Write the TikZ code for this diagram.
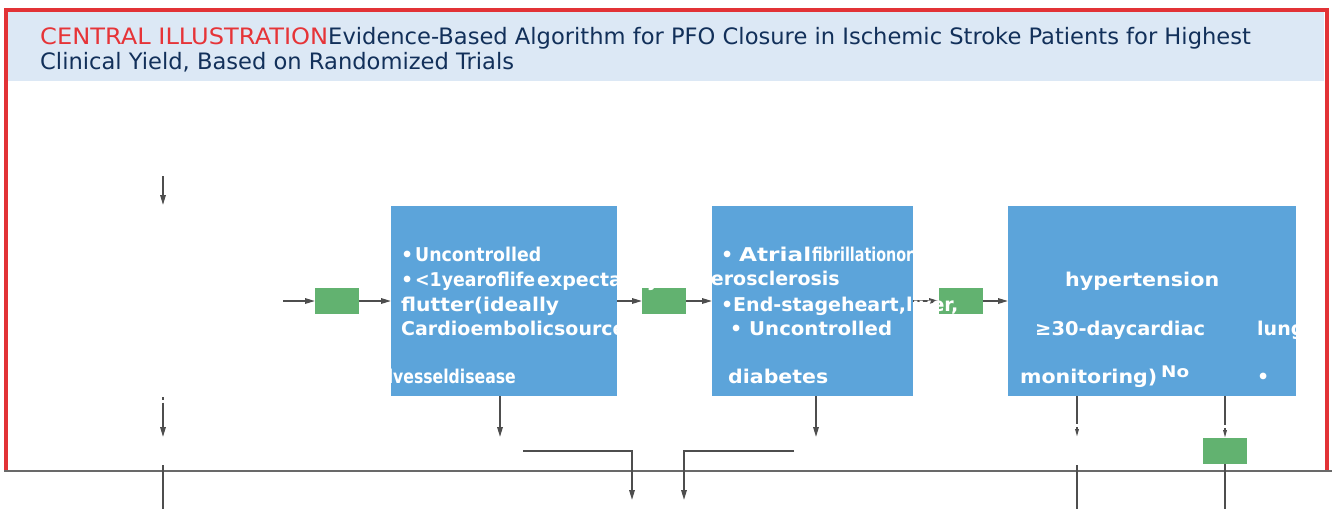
\documentclass[tikz,border=0pt]{standalone}
\usepackage{fontspec}
\setmainfont{DejaVu Sans}
\usepackage{graphicx}
\usetikzlibrary{arrows.meta}
\definecolor{framered}{RGB}{226,50,54}
\definecolor{band}{RGB}{220,232,245}
\definecolor{navy}{RGB}{18,48,90}
\definecolor{titlered}{RGB}{230,52,56}
\definecolor{boxblue}{RGB}{92,164,218}
\definecolor{boxgreen}{RGB}{98,178,112}
\definecolor{conncol}{RGB}{78,78,78}
\definecolor{rule}{RGB}{105,105,105}
\newcommand\fw[2]{\resizebox{#1pt}{\height}{#2}}
\tikzset{
  bluebox/.style={fill=boxblue, draw=none, inner sep=0pt, outer sep=0pt, anchor=north west},
  greenbox/.style={fill=boxgreen, draw=none, inner sep=0pt, outer sep=0pt, anchor=north west, minimum width=44pt, minimum height=26pt},
  connline/.style={draw=conncol, line width=1.6pt},
  arr/.style={connline, -{Triangle[length=10pt,width=5.5pt]}},
  thinarr/.style={connline, -{Triangle[length=8pt,width=3.5pt]}},
  wt/.style={text=white, font=\bfseries\fontsize{19}{19}\selectfont, inner sep=0pt, anchor=base west},
  wte/.style={wt, anchor=base east},
  ttl/.style={text=navy, font=\fontsize{22.6}{25}\selectfont, inner sep=0pt, anchor=base west},
}
\begin{document}
\begin{tikzpicture}[x=1pt,y=-1pt]
\useasboundingbox (0,0) rectangle (1332,509);
% title band and frame
\fill[band] (8,12) rectangle (1324,81);
\draw[framered, line width=4pt] (6,471) -- (6,10) -- (1326.5,10) -- (1326.5,471);
\draw[rule, line width=1.5pt] (4,471) -- (1332,471);
\node[ttl] (tl1) at (40,44) {{\color{titlered}\fw{288}{CENTRAL ILLUSTRATION}}Evidence-Based Algorithm for PFO Closure in Ischemic Stroke Patients for Highest};
\node[ttl] (tl2) at (40,69) {Clinical Yield, Based on Randomized Trials};
% boxes
\node[bluebox, minimum width=226pt, minimum height=190pt] (b1) at (391,206) {};
\node[bluebox, minimum width=201pt, minimum height=190pt] (b2) at (712,206) {};
\node[bluebox, minimum width=288pt, minimum height=190pt] (b3) at (1008,206) {};
\node[greenbox] (g1) at (315,288) {};
\node[greenbox] (g2) at (642,288) {};
\node[greenbox] (g3) at (939,288) {};
\node[greenbox] (g4) at (1203,438) {};
% connectors
\coordinate (a0) at (283,301);
\draw[arr] (a0) -- (g1.west);
\draw[arr] (g1.east) -- (g1.east -| b1.west);
\draw[arr] (g2.west -| b1.east) -- (g2.west);
\draw[arr] (g2.east) -- (g2.east -| b2.west);
\draw[arr] (g3.west -| b2.east) -- (g3.west);
\draw[arr] (g3.east) -- (g3.east -| b3.west);
\coordinate (v1s) at (163,176); \coordinate (v1e) at (163,205);
\draw[arr] (v1s) -- (v1e);
\coordinate (v2s) at (163,397); \coordinate (v2e) at (163,437);
\draw[arr, dash pattern=on 2.5pt off 3pt on 100pt] (v2s) -- (v2e);
\coordinate (v3s) at (163,465); \coordinate (v3e) at (163,509);
\draw[connline] (v3s) -- (v3e);
\coordinate (v4e) at (500,437);
\draw[arr] (b1.south -| v4e) -- (v4e);
\coordinate (e1s) at (523,451); \coordinate (e1e) at (632,500);
\draw[arr] (e1s) -| (e1e);
\coordinate (e2s) at (794,451); \coordinate (e2e) at (684,500);
\draw[arr] (e2s) -| (e2e);
\coordinate (v5e) at (816,437);
\draw[arr] (b2.south -| v5e) -- (v5e);
\coordinate (v6e) at (1077,437);
\draw[thinarr, dash pattern=on 28pt off 3pt on 40pt] (b3.south -| v6e) -- (v6e);
\coordinate (v7s) at (1077,465); \coordinate (v7e) at (1077,509);
\draw[connline] (v7s) -- (v7e);
\coordinate (v8x) at (1225,0);
\draw[thinarr, dash pattern=on 29pt off 3pt on 40pt] (b3.south -| v8x) -- (g4.north);
\coordinate (v9e) at (1225,509);
\draw[connline] (g4.south) -- (v9e);
% box 1 text
\node[wt] (p1a) at (401,261) {•};
\node[wt] (p1b) at (415,261) {\fw{126}{Uncontrolled}};
\node[wt] (p1c) at (401,286) {•};
\node[wt] (p1d) at (415,286) {\fw{120}{<1yearoflife}};
\node[wt] (p1e) at (537,286) {expectancy};
\node[wt] (p1f) at (401,311) {\fw{158}{flutter(ideally}};
\node[wt] (p1g) at (401,335) {Cardioembolicsource};
\node[wte] (p1h) at (516,383) {\fw{128}{lvesseldisease}};
% box 2 text
\node[wt] (p2a) at (721,261) {•};
\node[wt] (p2b) at (739,261) {\fw{72}{Atrial}};
\node[wt] (p2c) at (812,261) {\fw{101}{fibrillationor}};
\node[wte] (p2d) at (840,285) {erosclerosis};
\node[wt] (p2e) at (721,311) {•};
\node[wt] (p2f) at (733,311) {\fw{225}{End-stageheart,liver,}};
\node[wt] (p2g) at (730,335) {•};
\node[wt] (p2h) at (749,335) {\fw{143}{Uncontrolled}};
\node[wt] (p2i) at (728,383) {\fw{100}{diabetes}};
% box 3 text
\node[wt] (p3a) at (1065,286) {\fw{154}{hypertension}};
\node[wt] (p3b) at (1035,335) {\fw{170}{≥30-daycardiac}};
\node[wt] (p3c) at (1257,335) {lung};
\node[wt] (p3d) at (1020,383) {\fw{137}{monitoring)}};
\node[wt, font=\bfseries\fontsize{16}{16}\selectfont] (p3e) at (1161,377) {\fw{28}{No}};
\node[wt] (p3f) at (1257,383) {•};
\end{tikzpicture}
\end{document}
